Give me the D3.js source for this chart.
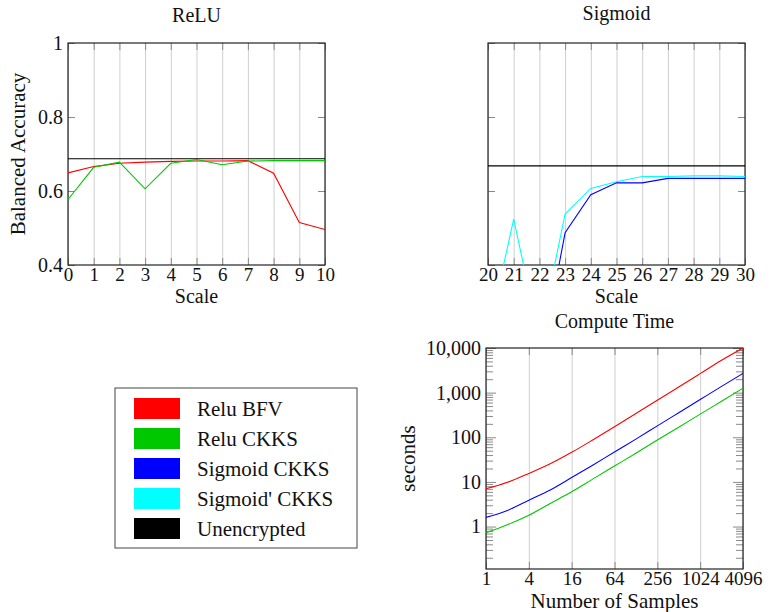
<!DOCTYPE html>
<html>
<head>
<meta charset="utf-8">
<script src="https://cdn.jsdelivr.net/npm/d3@7"></script>
<style>
  body { margin: 0; background: #fff; }
  svg text { font-family: "Liberation Serif", "Times New Roman", "DejaVu Serif", serif; fill: #111; }
</style>
</head>
<body>
<svg id="fig" width="771" height="612" font-family="Liberation Serif, DejaVu Serif, serif"></svg>
<script>
// accuracy vs scale (ReLU)
const reluScale = [0, 1, 2, 3, 4, 5, 6, 7, 8, 9, 10];
const reluBFV = [0.649, 0.666, 0.675, 0.678, 0.680, 0.681, 0.681, 0.682, 0.648, 0.515, 0.496];
const reluCKKS = [0.577, 0.664, 0.678, 0.606, 0.675, 0.685, 0.671, 0.681, 0.682, 0.682, 0.682];
const reluPlain = [0.687, 0.687, 0.687, 0.687, 0.687, 0.687, 0.687, 0.687, 0.687, 0.687, 0.687];

// accuracy vs scale (Sigmoid)
const sigScale = [20, 21, 22, 23, 24, 25, 26, 27, 28, 29, 30];
const sigmoidCKKS = [0.10, 0.10, 0.12, 0.487, 0.590, 0.622, 0.622, 0.634, 0.634, 0.634, 0.634];
const sigmoidPrimeCKKS = [0.21, 0.524, 0.20, 0.538, 0.607, 0.625, 0.639, 0.639, 0.641, 0.641, 0.639];
const sigPlain = [0.668, 0.668, 0.668, 0.668, 0.668, 0.668, 0.668, 0.668, 0.668, 0.668, 0.668];

const accTicks = [0.4, 0.6, 0.8, 1];

// compute time
const samples = [1, 2, 4, 8, 16, 32, 64, 128, 256, 512, 1024, 2048, 4096];
const timeBFV = [7.0, 9.8, 15.5, 25.5, 46, 88, 172, 340, 676, 1340, 2670, 5330, 10000];
const timeSigmoid = [1.6, 2.3, 3.9, 6.6, 12.5, 24, 47, 91, 180, 355, 700, 1380, 2700];
const timeCKKS = [0.73, 1.1, 1.8, 3.3, 6.0, 11.7, 22.7, 44, 87, 168, 330, 640, 1260];
const sampleTicks = [1, 4, 16, 64, 256, 1024, 4096];
const timeTicks = [1, 10, 100, 1000, 10000];

const legendNames = ['Relu BFV', 'Relu CKKS', 'Sigmoid CKKS', "Sigmoid' CKKS", 'Unencrypted'];
const legendColors = ['#ff0000', '#00c800', '#0000ff', '#00ffff', '#000000'];

const svg = d3.select('#fig');
const gridColor = '#cfcfcf';
const tickColor = '#8a8a8a';
const labelSize = 21;
const tickSize = 19;

// axes, grid and frame for one panel
function drawFrame(chart, x, y, w, h, xTicks, yTicks, opts) {
  chart.append('g')
    .attr('transform', `translate(0,${h})`)
    .call(d3.axisBottom(x).tickValues(xTicks).tickSize(-h).tickFormat(''))
    .call(g => g.select('.domain').remove())
    .selectAll('line').attr('stroke', gridColor);

  // inside ticks, all four sides
  chart.append('g')
    .attr('transform', `translate(0,${h})`)
    .call(d3.axisTop(x).tickValues(xTicks).tickSize(7).tickFormat(''))
    .call(g => g.select('.domain').remove())
    .selectAll('line').attr('stroke', tickColor);
  chart.append('g')
    .call(d3.axisBottom(x).tickValues(xTicks).tickSize(7).tickFormat(''))
    .call(g => g.select('.domain').remove())
    .selectAll('line').attr('stroke', tickColor);

  if (opts.minor) {
    chart.append('g')
      .call(d3.axisRight(y).tickValues(opts.minor).tickSize(7).tickFormat(''))
      .call(g => g.select('.domain').remove())
      .selectAll('line').attr('stroke', tickColor);
    chart.append('g')
      .attr('transform', `translate(${w},0)`)
      .call(d3.axisLeft(y).tickValues(opts.minor).tickSize(7).tickFormat(''))
      .call(g => g.select('.domain').remove())
      .selectAll('line').attr('stroke', tickColor);
  }
  chart.append('g')
    .call(d3.axisRight(y).tickValues(yTicks).tickSize(opts.minor ? 10 : 7).tickFormat(''))
    .call(g => g.select('.domain').remove())
    .selectAll('line').attr('stroke', tickColor);
  chart.append('g')
    .attr('transform', `translate(${w},0)`)
    .call(d3.axisLeft(y).tickValues(yTicks).tickSize(opts.minor ? 10 : 7).tickFormat(''))
    .call(g => g.select('.domain').remove())
    .selectAll('line').attr('stroke', tickColor);

  // tick labels
  const xl = chart.append('g')
    .attr('transform', `translate(0,${h})`)
    .call(d3.axisBottom(x).tickValues(xTicks).tickSize(0).tickPadding(2).tickFormat(opts.xFormat || d3.format('d')));
  xl.select('.domain').remove();
  xl.attr('font-family', null).attr('font-size', null);
  xl.selectAll('text').attr('font-size', tickSize).attr('fill', '#111');

  if (opts.yFormat) {
    const yl = chart.append('g')
      .call(d3.axisLeft(y).tickValues(yTicks).tickSize(0).tickPadding(5).tickFormat(opts.yFormat));
    yl.select('.domain').remove();
    yl.attr('font-family', null).attr('font-size', null);
    yl.selectAll('text').attr('font-size', 20).attr('fill', '#111');
  }

  chart.append('rect')
    .attr('width', w).attr('height', h)
    .attr('fill', 'none').attr('stroke', '#222').attr('stroke-width', 1.2);
}

function addTitle(chart, w, dy, label) {
  chart.append('text')
    .attr('x', w / 2).attr('y', dy)
    .attr('text-anchor', 'middle').attr('font-size', 20)
    .text(label);
}

function addLines(chart, id, w, h, x, y, xs, series) {
  chart.append('clipPath').attr('id', id)
    .append('rect').attr('width', w).attr('height', h);
  const line = d3.line()
    .x(d => x(d[0]))
    .y(d => y(d[1]));
  series.forEach(s => {
    chart.append('path')
      .datum(xs.map((v, i) => [v, s.values[i]]))
      .attr('clip-path', `url(#${id})`)
      .attr('fill', 'none')
      .attr('stroke', s.color)
      .attr('stroke-width', 1.1)
      .attr('d', s.curve ? line.curve(s.curve) : line.curve(d3.curveLinear));
  });
}

// ---- ReLU ----
{
  const w = 257, h = 222;
  const chart = svg.append('g').attr('transform', 'translate(68,43)');
  const x = d3.scaleLinear().domain([0, 10]).range([0, w]);
  const y = d3.scaleLinear().domain([0.4, 1]).range([h, 0]);
  drawFrame(chart, x, y, w, h, reluScale, accTicks, { yFormat: d => d === 1 ? '1' : d3.format('.1f')(d) });
  addLines(chart, 'clip-relu', w, h, x, y, reluScale, [
    { values: reluPlain, color: '#000' },
    { values: reluBFV, color: legendColors[0] },
    { values: reluCKKS, color: legendColors[1] }
  ]);
  addTitle(chart, w, -21, 'ReLU');
  chart.append('text').attr('x', w / 2).attr('y', h + 38)
    .attr('text-anchor', 'middle').attr('font-size', 20).text('Scale');
  chart.append('text')
    .attr('transform', `translate(-43,${h / 2}) rotate(-90)`)
    .attr('text-anchor', 'middle').attr('font-size', labelSize).text('Balanced Accuracy');
}

// ---- Sigmoid ----
{
  const w = 257, h = 222;
  const chart = svg.append('g').attr('transform', 'translate(488,43)');
  const x = d3.scaleLinear().domain([20, 30]).range([0, w]);
  const y = d3.scaleLinear().domain([0.4, 1]).range([h, 0]);
  drawFrame(chart, x, y, w, h, sigScale, accTicks, {});
  addLines(chart, 'clip-sig', w, h, x, y, sigScale, [
    { values: sigPlain, color: '#000' },
    { values: sigmoidPrimeCKKS, color: legendColors[3] },
    { values: sigmoidCKKS, color: legendColors[2] }
  ]);
  addTitle(chart, w, -23, 'Sigmoid');
  chart.append('text').attr('x', w / 2).attr('y', h + 38)
    .attr('text-anchor', 'middle').attr('font-size', 20).text('Scale');
}

// ---- Compute Time ----
{
  const w = 257, h = 221;
  const chart = svg.append('g').attr('transform', 'translate(486,348)');
  const x = d3.scaleLog().base(2).domain([1, 4096]).range([0, w]);
  const y = d3.scaleLog().domain([0.112, 10000]).range([h, 0]);
  const minor = y.ticks().filter(v => timeTicks.indexOf(v) < 0);
  drawFrame(chart, x, y, w, h, sampleTicks, timeTicks, { minor: minor, yFormat: d3.format(','), xFormat: d3.format('d') });
  addLines(chart, 'clip-time', w, h, x, y, samples, [
    { values: timeBFV, color: legendColors[0], curve: d3.curveMonotoneX },
    { values: timeSigmoid, color: legendColors[2], curve: d3.curveMonotoneX },
    { values: timeCKKS, color: legendColors[1], curve: d3.curveMonotoneX }
  ]);
  addTitle(chart, w, -20, 'Compute Time');
  chart.append('text').attr('x', w / 2).attr('y', h + 39)
    .attr('text-anchor', 'middle').attr('font-size', labelSize).text('Number of Samples');
  chart.append('text')
    .attr('transform', `translate(-71,${h / 2}) rotate(-90)`)
    .attr('text-anchor', 'middle').attr('font-size', labelSize).text('seconds');
}

// ---- Legend ----
{
  const legend = svg.append('g').attr('transform', 'translate(115,388)');
  legend.append('rect')
    .attr('width', 242).attr('height', 160)
    .attr('fill', '#fff').attr('stroke', '#444').attr('stroke-width', 1);
  const rows = legend.selectAll('.row')
    .data(legendNames)
    .enter()
    .append('g')
    .attr('class', 'row')
    .attr('transform', (d, i) => `translate(0,${20 + i * 30})`);
  rows.append('rect')
    .attr('x', 19).attr('y', -10)
    .attr('width', 46).attr('height', 21)
    .attr('fill', (d, i) => legendColors[i]);
  rows.append('text')
    .attr('x', 82).attr('y', 8)
    .attr('font-size', labelSize)
    .text(d => d);
}
</script>
</body>
</html>
